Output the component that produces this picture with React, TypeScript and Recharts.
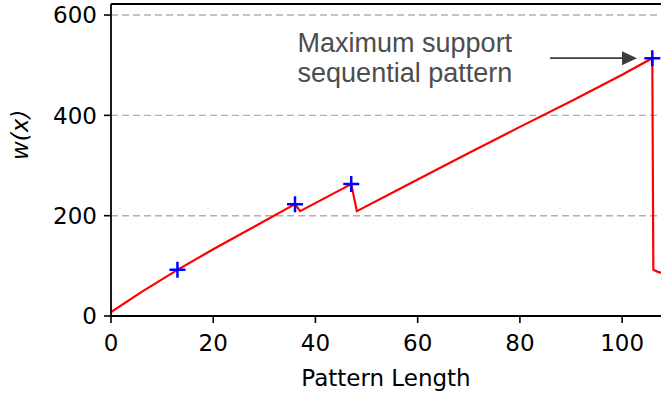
import React from 'react';
import {
  ComposedChart,
  Line,
  Scatter,
  XAxis,
  YAxis,
  CartesianGrid,
  ReferenceLine,
  ReferenceDot,
} from 'recharts';

const patternLength = [0, 6, 13, 20, 28, 36, 37, 42, 47, 48.1, 60, 70, 80, 90, 100, 105.9, 106.1, 107, 108];
const weight = [8, 48, 92, 133, 178, 223, 209, 236, 263, 209, 272, 325, 377, 428, 481, 514, 92, 88, 85];

const markerX = [13, 36, 47, 105.9];
const markerY = [92, 223, 263, 514];

const xTicks = [0, 20, 40, 60, 80, 100];
const yTicks = [0, 200, 400, 600];

const lineData = patternLength.map((x, i) => ({ x, w: weight[i] }));
const markerData = markerX.map((x, i) => ({ x, w: markerY[i] }));

const annotationLines = ['Maximum support', 'sequential pattern'];

const FONT = '"DejaVu Sans", sans-serif';

const PlusShape = (props: any) => {
  const { cx, cy } = props;
  const s = 8;
  return (
    <path
      d={`M${cx - s},${cy}L${cx + s},${cy}M${cx},${cy - s}L${cx},${cy + s}`}
      stroke="#0000ff"
      strokeWidth={2.5}
      fill="none"
    />
  );
};

const ArrowShape = (props: any) => {
  const { x1, y1, x2, y2 } = props;
  const head = 15;
  const half = 7;
  return (
    <g>
      <line x1={x1} y1={y1} x2={x2 - head} y2={y2} stroke="#3d3d3d" strokeWidth={1.6} />
      <polygon
        points={`${x2},${y2} ${x2 - head},${y2 - half} ${x2 - head},${y2 + half}`}
        fill="#3d3d3d"
      />
    </g>
  );
};

const AnnotationText = (props: any) => {
  const { cx, cy } = props;
  return (
    <text
      x={cx}
      y={cy}
      fill="#4d4d4d"
      fontSize={27}
      fontFamily='"Liberation Sans", Arial, sans-serif'
    >
      {annotationLines.map((t, i) => (
        <tspan key={i} x={cx} dy={i === 0 ? 0 : 30}>
          {t}
        </tspan>
      ))}
    </text>
  );
};

export default function App() {
  return (
    <div style={{ position: 'absolute', left: 0, top: 0, width: 661, height: 394, background: '#fff' }}>
      <ComposedChart
        width={661}
        height={394}
        data={lineData}
        margin={{ top: 4, right: 0, bottom: 0, left: 0 }}
      >
        <CartesianGrid
          horizontal
          vertical={false}
          stroke="#b0b0b0"
          strokeDasharray="7 4"
          strokeWidth={1.4}
          horizontalValues={[200, 400, 600]}
        />
        <XAxis
          type="number"
          dataKey="x"
          domain={[0, 107.6]}
          allowDataOverflow
          ticks={xTicks}
          tickSize={7}
          tickMargin={12}
          height={78}
          stroke="#000"
          tickLine={{ stroke: '#000', strokeWidth: 1.6 }}
          axisLine={{ stroke: '#000', strokeWidth: 1.8 }}
          tick={{ fill: '#000', fontSize: 23, fontFamily: FONT }}
          label={{
            value: 'Pattern Length',
            position: 'insideBottom',
            offset: 8,
            fill: '#000',
            fontSize: 23,
            fontFamily: FONT,
          }}
        />
        <YAxis
          type="number"
          domain={[0, 622]}
          allowDataOverflow
          ticks={yTicks}
          tickSize={7}
          tickMargin={7}
          width={111}
          stroke="#000"
          tickLine={{ stroke: '#000', strokeWidth: 1.6 }}
          axisLine={{ stroke: '#000', strokeWidth: 1.8 }}
          tick={{ fill: '#000', fontSize: 23, fontFamily: FONT }}
          label={{
            value: 'w(x)',
            angle: -90,
            position: 'insideLeft',
            offset: 20,
            fill: '#000',
            fontSize: 23,
            fontStyle: 'italic',
            fontFamily: FONT,
          }}
        />
        <ReferenceLine y={622} stroke="#000" strokeWidth={1.8} ifOverflow="visible" />
        <Line
          type="linear"
          dataKey="w"
          stroke="#ff0000"
          strokeWidth={2.2}
          dot={false}
          activeDot={false}
          isAnimationActive={false}
        />
        <Scatter
          data={markerData}
          dataKey="w"
          shape={PlusShape}
          isAnimationActive={false}
        />
        <ReferenceLine
          segment={[
            { x: 85.9, y: 514 },
            { x: 102.9, y: 514 },
          ]}
          ifOverflow="visible"
          shape={ArrowShape}
        />
        <ReferenceDot
          x={36.5}
          y={526}
          r={0}
          ifOverflow="visible"
          shape={AnnotationText}
        />
      </ComposedChart>
    </div>
  );
}
